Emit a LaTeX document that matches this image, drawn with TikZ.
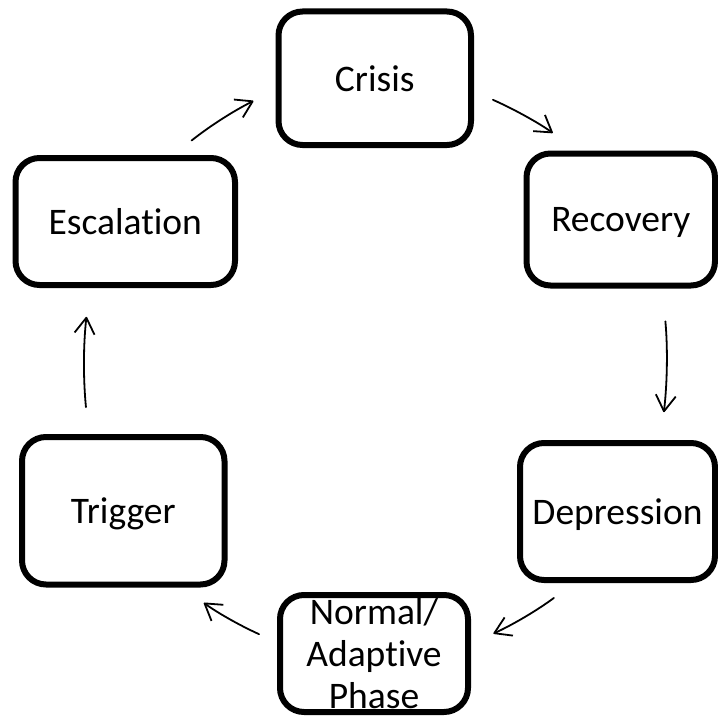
\documentclass[tikz,border=0pt]{standalone}
\usepackage{fontspec}
\setmainfont{Carlito}[Ligatures=NoCommon]
\usetikzlibrary{arrows.meta}

\tikzset{
  phase/.style={draw, line width=6pt, rounded corners=24pt, outer sep=0pt, inner sep=0pt,
    align=center, text depth=0pt, font=\fontsize{37.5}{42}\selectfont},
  cyc/.style={line width=1.8pt, line cap=round,
    -{Straight Barb[length=16pt, width=20pt, line join=round]}, bend left=6}
}

\begin{document}
\begin{tikzpicture}[x=1pt, y=1pt]
			\useasboundingbox (0,0) rectangle (718,-717);

			% Draw the boxes of the cycle
			\node[phase, minimum width=192.5pt, minimum height=133.5pt] (crisis) at (374.75,-78.25) {Crisis};
			\node[phase, minimum width=188.5pt, minimum height=132pt] (recovery) at (620.75,-219.5) {Recovery};
			\node[phase, minimum width=195pt, minimum height=137pt] (depression) at (617.5,-511.5) {Depression};
			\node[phase, minimum width=188pt, minimum height=117pt] (normal) at (374,-653.5) {Normal/\\Adaptive\\Phase};
			\node[phase, minimum width=202.5pt, minimum height=147.5pt] (trigger) at (123.25,-510.75) {Trigger};
			\node[phase, minimum width=219.5pt, minimum height=127pt] (escalation) at (125.25,-221.5) {Escalation};

			% Draw the arrows between the boxes
			\draw[cyc, shorten <=28pt, shorten >=28pt] (escalation.55) to (crisis.186);
			\draw[cyc, shorten <=24pt, shorten >=35pt] (crisis.-7.5) to (recovery.121);
			\draw[cyc, shorten <=36pt, shorten >=31pt] (recovery.-58.6) to (depression.58);
			\draw[cyc, shorten <=30pt, shorten >=28pt] (depression.240) to (normal.5.8);
			\draw[cyc, shorten <=23pt, shorten >=31pt] (normal.174) to (trigger.-53.2);
			\draw[cyc, shorten <=30pt, shorten >=32pt] (trigger.115.5) to (escalation.241);

		\end{tikzpicture}
\end{document}
